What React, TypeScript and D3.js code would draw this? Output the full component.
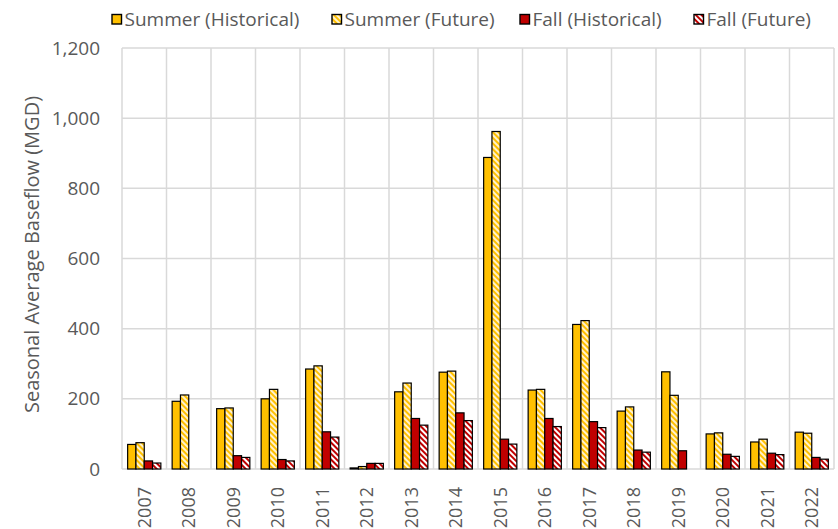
import React from "react";
import * as d3 from "d3";

// Seasonal average baseflow (MGD) by year
const years = ["2007","2008","2009","2010","2011","2012","2013","2014","2015","2016","2017","2018","2019","2020","2021","2022"];
const summerHistorical = [70, 193, 172, 200, 285, 3, 220, 276, 888, 225, 412, 165, 277, 100, 77, 105];
const summerFuture = [75, 211, 174, 227, 294, 7, 245, 279, 962, 227, 423, 177, 210, 103, 85, 102];
const fallHistorical: (number | null)[] = [23, null, 38, 27, 106, 16, 144, 160, 85, 144, 135, 54, 52, 42, 45, 33];
const fallFuture: (number | null)[] = [17, null, 33, 23, 91, 16, 125, 138, 71, 121, 118, 48, null, 36, 41, 28];
const seriesNames = ["Summer (Historical)", "Summer (Future)", "Fall (Historical)", "Fall (Future)"];
const yTicks = [0, 200, 400, 600, 800, 1000, 1200];

const W = 838;
const H = 529;
const margin = { left: 122, right: 4, top: 48, bottom: 60 };
const FONT = "'Open Sans', 'DejaVu Sans', sans-serif";
const TEXT = "#595959";
const GRID = "#D9D9D9";

const fills = ["#FFC000", "url(#stripeSummer)", "#C00000", "url(#stripeFall)"];

export default function App() {
  const series = [summerHistorical, summerFuture, fallHistorical, fallFuture];
  const x0 = d3.scaleBand<string>().domain(years).range([margin.left, W - margin.right]).paddingInner(0).paddingOuter(0);
  const x1 = d3.scaleBand<string>().domain(seriesNames).range([0, x0.bandwidth()]).paddingInner(0).paddingOuter(0.68);
  const y = d3.scaleLinear().domain([0, 1200]).range([H - margin.bottom, margin.top]);
  const fmt = d3.format(",");

  const legendX = [112, 332, 520, 694];

  return (
    <svg width={W} height={H} style={{ position: "absolute", left: 0, top: 0, background: "#fff" }} fontFamily={FONT}>
      <defs>
        <pattern id="stripeSummer" patternUnits="userSpaceOnUse" width={4} height={4} patternTransform="rotate(-45)">
          <rect width={4} height={4} fill="#FFF2CC" />
          <rect width={2} height={4} fill="#FFC000" />
        </pattern>
        <pattern id="stripeFall" patternUnits="userSpaceOnUse" width={4} height={4} patternTransform="rotate(-45)">
          <rect width={4} height={4} fill="#FFFFFF" />
          <rect width={2} height={4} fill="#C00000" />
        </pattern>
      </defs>

      {/* horizontal gridlines */}
      {yTicks.map((t) => (
        <line key={"h" + t} x1={margin.left} x2={W - margin.right} y1={y(t)} y2={y(t)} stroke={GRID} strokeWidth={1.5} />
      ))}
      {/* vertical category gridlines */}
      {years.map((yr) => (
        <line key={"v" + yr} x1={x0(yr)!} x2={x0(yr)!} y1={margin.top} y2={y(0)} stroke={GRID} strokeWidth={1.5} />
      ))}
      <line x1={W - margin.right} x2={W - margin.right} y1={margin.top} y2={y(0)} stroke={GRID} strokeWidth={1.5} />

      {/* bars */}
      {years.map((yr, i) => (
        <g key={"g" + yr} transform={`translate(${x0(yr)},0)`}>
          {series.map((s, j) => {
            const v = s[i];
            if (v == null) return null;
            return (
              <rect
                key={j}
                x={x1(seriesNames[j])!}
                y={y(v)}
                width={x1.bandwidth()}
                height={y(0) - y(v)}
                fill={fills[j]}
                stroke="#000"
                strokeWidth={1.2}
              />
            );
          })}
        </g>
      ))}

      {/* y tick labels */}
      {yTicks.map((t) => (
        <text key={"yt" + t} x={100} y={y(t)} dy="0.35em" textAnchor="end" fontSize={19} fill={TEXT}>
          {fmt(t)}
        </text>
      ))}

      {/* x tick labels */}
      {years.map((yr) => (
        <text
          key={"xt" + yr}
          transform={`translate(${x0(yr)! + x0.bandwidth() / 2},${y(0) + 18}) rotate(-90)`}
          textAnchor="end"
          dy="0.35em"
          fontSize={18}
          fill={TEXT}
        >
          {yr}
        </text>
      ))}

      {/* y axis title */}
      <text
        transform={`translate(32,${(y(0) + y(1200)) / 2 - 4}) rotate(-90)`}
        textAnchor="middle"
        dy="0.35em"
        fontSize={20}
        fill={TEXT}
      >
        Seasonal Average Baseflow (MGD)
      </text>

      {/* legend */}
      {seriesNames.map((name, j) => (
        <g key={"lg" + j} transform={`translate(${legendX[j]},14.5)`}>
          <rect x={0} y={0} width={9.5} height={9.5} fill={fills[j]} stroke="#000" strokeWidth={1.4} />
          <text x={12.5} y={4.5} dy="0.35em" fontSize={19} fill={TEXT}>
            {name}
          </text>
        </g>
      ))}
    </svg>
  );
}
